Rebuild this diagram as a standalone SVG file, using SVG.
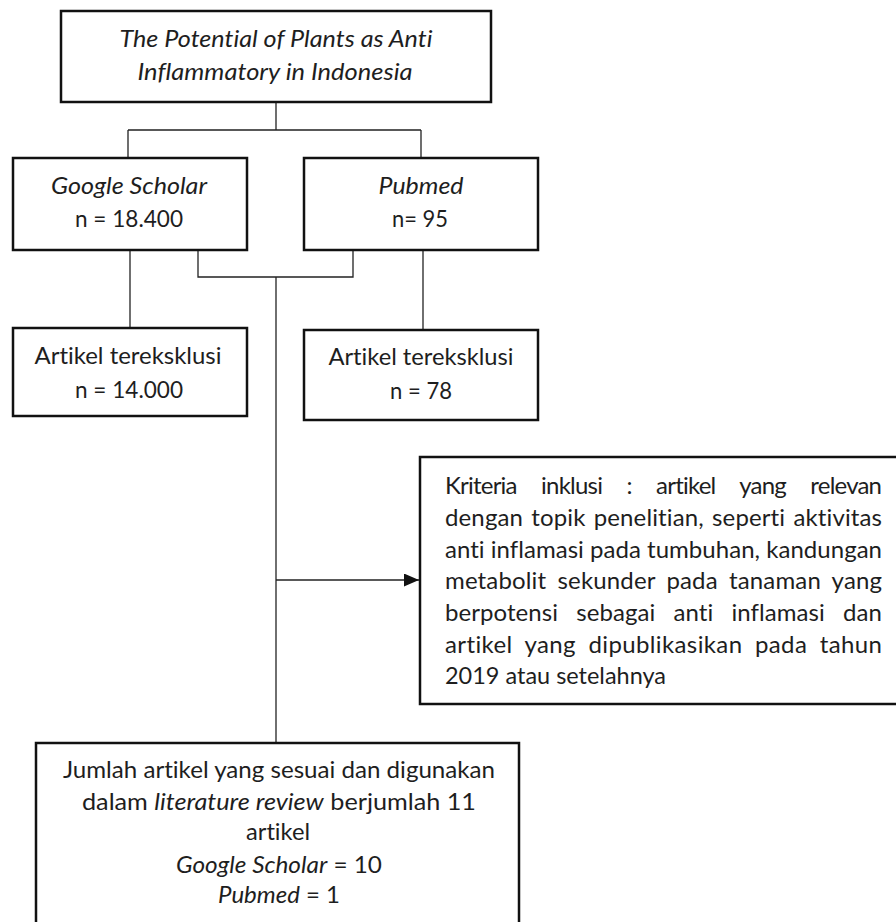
<svg xmlns="http://www.w3.org/2000/svg" width="896" height="922" viewBox="0 0 896 922">
<style>
  .box{fill:#fff;stroke:#111;stroke-width:2.5}
  .t{font-family:Lato,"Liberation Sans",sans-serif;font-size:24px;fill:#1e1e1e;font-variant-ligatures:none;font-feature-settings:"liga" 0,"clig" 0,"dlig" 0}
  .c{text-anchor:middle}
  .i{font-style:italic}
  .conn{fill:none;stroke:#222;stroke-width:1.3}
</style>
<defs>
  <marker id="arrow" viewBox="0 0 15 13" refX="15" refY="6.5" markerWidth="15" markerHeight="13" markerUnits="userSpaceOnUse" orient="auto">
    <path d="M0,0 L15,6.5 L0,13 Z" fill="#111"/>
  </marker>
</defs>
<rect width="896" height="922" fill="#fff"/>

<g id="connectors">
  <path class="conn" d="M276,102 V130 M128,130 H421 M128,130 V158 M421,130 V158"/>
  <path class="conn" d="M130,250 V328"/>
  <path class="conn" d="M423,250 V330"/>
  <path class="conn" d="M198,250 V277 H353 V250"/>
  <path class="conn" d="M276,277 V743"/>
  <path class="conn" d="M276,580 H419" marker-end="url(#arrow)"/>
</g>

<g id="title">
  <rect class="box" x="61" y="11" width="430" height="91"/>
  <text class="t c i" x="276" y="47" textLength="313" lengthAdjust="spacingAndGlyphs">The Potential of Plants as Anti</text>
  <text class="t c i" x="275" y="80" textLength="275" lengthAdjust="spacingAndGlyphs">Inflammatory in Indonesia</text>
</g>

<g id="google-scholar">
  <rect class="box" x="13" y="158" width="234" height="92"/>
  <text class="t c i" x="129" y="194" textLength="156" lengthAdjust="spacingAndGlyphs">Google Scholar</text>
  <text class="t c" x="129" y="227" textLength="108" lengthAdjust="spacingAndGlyphs">n = 18.400</text>
</g>

<g id="pubmed">
  <rect class="box" x="304" y="158" width="234" height="92"/>
  <text class="t c i" x="421" y="194" textLength="85" lengthAdjust="spacingAndGlyphs">Pubmed</text>
  <text class="t c" x="420" y="227" textLength="56" lengthAdjust="spacingAndGlyphs">n= 95</text>
</g>

<g id="excluded-gs">
  <rect class="box" x="13" y="328" width="234" height="88"/>
  <text class="t c" x="128" y="364" textLength="187" lengthAdjust="spacingAndGlyphs">Artikel tereksklusi</text>
  <text class="t c" x="129" y="398" textLength="108" lengthAdjust="spacingAndGlyphs">n = 14.000</text>
</g>

<g id="excluded-pubmed">
  <rect class="box" x="304" y="330" width="234" height="90"/>
  <text class="t c" x="421" y="365" textLength="185" lengthAdjust="spacingAndGlyphs">Artikel tereksklusi</text>
  <text class="t c" x="421" y="399" textLength="62" lengthAdjust="spacingAndGlyphs">n = 78</text>
</g>

<g id="inclusion">
  <rect class="box" x="420" y="457" width="480" height="247"/>
  <text class="t" x="445" y="494" word-spacing="19" textLength="437" lengthAdjust="spacing">Kriteria inklusi : artikel yang relevan</text>
  <text class="t" x="445" y="526" word-spacing="2" textLength="437" lengthAdjust="spacing">dengan topik penelitian, seperti aktivitas</text>
  <text class="t" x="445" y="558" textLength="437" lengthAdjust="spacing">anti inflamasi pada tumbuhan, kandungan</text>
  <text class="t" x="445" y="589" word-spacing="5" textLength="437" lengthAdjust="spacing">metabolit sekunder pada tanaman yang</text>
  <text class="t" x="445" y="621" word-spacing="12" textLength="437" lengthAdjust="spacing">berpotensi sebagai anti inflamasi dan</text>
  <text class="t" x="445" y="653" word-spacing="6" textLength="437" lengthAdjust="spacing">artikel yang dipublikasikan pada tahun</text>
  <text class="t" x="445" y="684" textLength="221" lengthAdjust="spacingAndGlyphs">2019 atau setelahnya</text>
</g>

<g id="result">
  <rect class="box" x="36" y="743" width="483" height="190"/>
  <text class="t c" x="279" y="778" textLength="432" lengthAdjust="spacingAndGlyphs">Jumlah artikel yang sesuai dan digunakan</text>
  <text class="t c" x="279" y="810" textLength="394" lengthAdjust="spacingAndGlyphs">dalam <tspan class="i">literature review</tspan>  berjumlah 11</text>
  <text class="t c" x="278" y="840" textLength="64" lengthAdjust="spacingAndGlyphs">artikel</text>
  <text class="t c" x="279" y="873" textLength="206" lengthAdjust="spacingAndGlyphs"><tspan class="i">Google Scholar</tspan> = 10</text>
  <text class="t c" x="279" y="903" textLength="122" lengthAdjust="spacingAndGlyphs"><tspan class="i">Pubmed</tspan> = 1</text>
</g>
</svg>
